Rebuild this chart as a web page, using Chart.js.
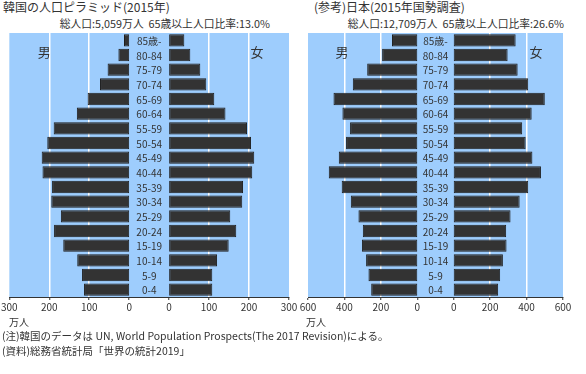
<!DOCTYPE html>
<html lang="ja">
<head>
<meta charset="utf-8">
<script src="https://cdn.jsdelivr.net/npm/chart.js@4/dist/chart.umd.min.js"></script>
<style>
    body { margin: 0; width: 586px; height: 374px; background: #fff; position: relative; overflow: hidden;
           font-family: 'Noto Sans CJK JP', sans-serif; color: #333; }
    .txt { position: absolute; white-space: nowrap; line-height: 1; }
    .title { font-size: 12px; top: 1px; }
    .sub { font-size: 10.8px; top: 18px; }
    .unit { font-size: 10px; top: 317px; }
    .note { font-size: 10.5px; left: 2px; }
    canvas { position: absolute; }
</style>
</head>
<body>
<div class="txt title" style="left:3px">韓国の人口ピラミッド(2015年)</div>
<div class="txt sub" style="right:316px">総人口:5,059万人&nbsp;&nbsp;65歳以上人口比率:13.0%</div>
<div class="txt title" style="left:314px">(参考)日本(2015年国勢調査)</div>
<div class="txt sub" style="right:22px">総人口:12,709万人&nbsp;&nbsp;65歳以上人口比率:26.6%</div>

<canvas id="chartKorea" width="300" height="300" style="left:0;top:30px"></canvas>
<canvas id="chartJapan" width="293" height="300" style="left:293px;top:30px"></canvas>

<div class="txt unit" style="left:9px">万人</div>
<div class="txt unit" style="left:306px">万人</div>
<div class="txt note" style="top:331px">(注)韓国のデータは UN, World Population Prospects(The 2017 Revision)による。</div>
<div class="txt note" style="top:346px">(資料)総務省統計局「世界の統計2019」</div>

<script>
// ============== DỮ LIỆU (万人) ==============

const ageLabels = ['85歳-', '80-84', '75-79', '70-74', '65-69', '60-64', '55-59', '50-54', '45-49',
                   '40-44', '35-39', '30-34', '25-29', '20-24', '15-19', '10-14', '5-9', '0-4'];

const koreaMale   = [13, 27, 54, 73, 104, 131, 189, 205, 219, 217, 193, 195, 171, 188, 165, 130, 118, 113];
const koreaFemale = [38, 53, 78, 93, 113, 141, 195, 205, 213, 208, 185, 183, 153, 168, 149, 120, 108, 108];

const japanMale   = [139, 193, 275, 354, 460, 411, 369, 391, 431, 486, 415, 365, 323, 299, 304, 281, 268, 253];
const japanFemale = [340, 296, 351, 409, 500, 428, 376, 395, 432, 479, 409, 362, 312, 288, 290, 270, 255, 244];

const koreaTicks = [0, 100, 200, 300];
const japanTicks = [0, 200, 400, 600];

const FONT = "'Noto Sans CJK JP', sans-serif";

/**
 * Nền xanh + nhãn tuổi ở giữa + 男/女
 */
const pyramidPlugin = {
    id: 'pyramid',
    beforeDraw(chart) {
        const a = chart.chartArea;
        const c = chart.ctx;
        c.save();
        c.fillStyle = '#9ecdfd';
        c.fillRect(a.left, a.top, a.right - a.left, a.bottom - a.top);
        c.restore();
    },
    afterDatasetsDraw(chart, args, opts) {
        const a = chart.chartArea;
        const c = chart.ctx;
        const cx = chart.scales.x.getPixelForValue(0);
        c.save();
        c.fillStyle = '#333';
        c.textAlign = 'center';
        c.textBaseline = 'middle';
        c.font = '10px ' + FONT;
        ageLabels.forEach((lb, i) => {
            c.fillText(lb, cx, chart.scales.y.getPixelForValue(i) + 1);
        });
        c.font = '13px ' + FONT;
        c.fillText('男', a.left + opts.maleX, a.top + 19);
        c.fillText('女', a.right - opts.femaleX, a.top + 19);
        c.restore();
    }
};

/**
 * Tạo 1 tháp dân số
 */
function makePyramid(id, male, female, ticks, padding, sexPos) {
    const step = ticks[1] - ticks[0];
    const half = step / 2;              // khoảng trống giữa = 1 bước
    const max = ticks[ticks.length - 1];
    const tickValues = [];
    ticks.forEach(t => { tickValues.push(-(t + half)); tickValues.push(t + half); });
    tickValues.sort((p, q) => p - q);

    const barStyle = {
        backgroundColor: '#333333',
        borderColor: '#1f1f1f',
        borderWidth: 1,
        borderSkipped: false,
        barPercentage: 0.84,
        categoryPercentage: 1,
        grouped: false
    };

    return new Chart(document.getElementById(id), {
        type: 'bar',
        data: {
            labels: ageLabels,
            datasets: [
                Object.assign({ label: '男', data: male.map(v => [-half - v, -half]) }, barStyle),
                Object.assign({ label: '女', data: female.map(v => [half, half + v]) }, barStyle)
            ]
        },
        options: {
            indexAxis: 'y',
            responsive: false,
            animation: false,
            layout: { padding: padding },
            plugins: {
                legend: { display: false },
                tooltip: { enabled: false },
                pyramid: sexPos
            },
            scales: {
                x: {
                    type: 'linear',
                    min: -(max + half),
                    max: max + half,
                    afterBuildTicks: scale => {
                        scale.ticks = tickValues.map(v => ({ value: v }));
                    },
                    ticks: {
                        autoSkip: false,
                        maxRotation: 0,
                        padding: 1,
                        color: '#333',
                        font: { family: FONT, size: 10 },
                        callback: value => String(Math.abs(value) - half)
                    },
                    grid: {
                        lineWidth: 1.5,
                        color: ctx => {
                            const v = Math.abs(ctx.tick.value) - half;
                            return (v > 0 && v < max) ? '#ffffff' : 'rgba(0,0,0,0)';
                        },
                        tickColor: '#333',
                        tickWidth: 1,
                        tickLength: 3
                    },
                    border: { display: true, color: '#333', width: 1 }
                },
                y: {
                    type: 'category',
                    display: false,
                    offset: true,
                    grid: { display: false }
                }
            }
        },
        plugins: [pyramidPlugin]
    });
}

document.addEventListener('DOMContentLoaded', function () {
    makePyramid('chartKorea', koreaMale, koreaFemale, koreaTicks,
        { left: 9, right: 11, top: 3, bottom: 16 }, { maleX: 35, femaleX: 32 });
    makePyramid('chartJapan', japanMale, japanFemale, japanTicks,
        { left: 15, right: 23, top: 3, bottom: 16 }, { maleX: 34, femaleX: 27 });
});
</script>
</body>
</html>
